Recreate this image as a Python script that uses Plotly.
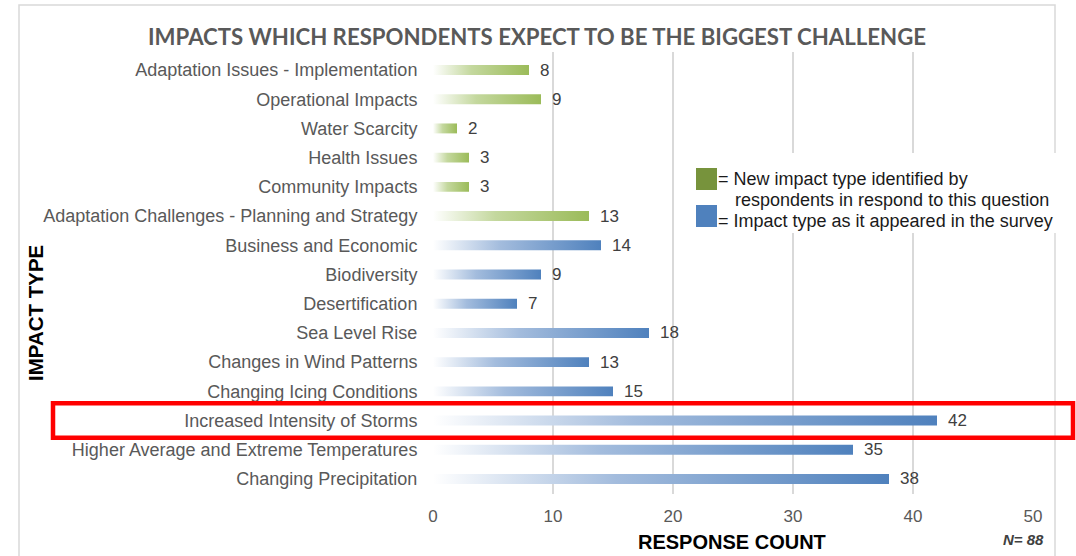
import plotly.graph_objects as go

# ---- data (top of chart to bottom) ----
categories = [
    "Adaptation Issues - Implementation",
    "Operational Impacts",
    "Water Scarcity",
    "Health Issues",
    "Community Impacts",
    "Adaptation Challenges - Planning and Strategy",
    "Business and Economic",
    "Biodiversity",
    "Desertification",
    "Sea Level Rise",
    "Changes in Wind Patterns",
    "Changing Icing Conditions",
    "Increased Intensity of Storms",
    "Higher Average and Extreme Temperatures",
    "Changing Precipitation",
]
counts = [8, 9, 2, 3, 3, 13, 14, 9, 7, 18, 13, 15, 42, 35, 38]
groups = ["new"] * 6 + ["survey"] * 9
x_ticks = [0, 10, 20, 30, 40, 50]
highlight = "Increased Intensity of Storms"
title_text = "IMPACTS WHICH RESPONDENTS EXPECT TO BE THE BIGGEST CHALLENGE"
legend_new = ["= New impact type identified by", "respondents in respond to this question"]
legend_survey = "= Impact type as it appeared in the survey"
n_text = "N= 88"

# ---- styles ----
GREEN = "#9BBB59"
GREEN_MID = "#c4d89e"
BLUE = "#4F81BD"
BLUE_MID = "#a3bcdd"
LEG_GREEN = "#77933C"
LEG_BLUE = "#4F81BD"
GRAY = "#595959"
FONT = "Liberation Sans, Arial, sans-serif"

# pixel geometry of plot area
W, H = 1076, 556
L, R, T, B = 433, 1033, 52, 494
n = len(categories)
ypos = [n - 1 - i for i in range(n)]  # top row gets highest value
half = 0.17


def px_x(p):
    return (p - L) / (R - L)


def px_y(p):
    return (B - p) / (B - T)


fig = go.Figure()
for cat, v, g, y in zip(categories, counts, groups, ypos):
    col, mid = (GREEN, GREEN_MID) if g == "new" else (BLUE, BLUE_MID)
    fig.add_trace(go.Scatter(
        x=[0, v, v, 0, 0],
        y=[y - half, y - half, y + half, y + half, y - half],
        mode="lines",
        line=dict(width=0),
        fill="toself",
        fillgradient=dict(type="horizontal",
                          colorscale=[[0, "#ffffff"], [0.4, mid], [1, col]]),
        hoverinfo="skip",
        showlegend=False,
    ))

annotations = []
for v, y in zip(counts, ypos):
    annotations.append(dict(x=v, y=y, xref="x", yref="y", text=str(v),
                            showarrow=False, xanchor="left", xshift=9,
                            font=dict(family=FONT, size=17, color="#404040")))

annotations += [
    dict(x=px_x(537), y=px_y(37), xref="paper", yref="paper", text="<b>%s</b>" % title_text,
         showarrow=False, xanchor="center", yanchor="middle",
         font=dict(family="Lato, Open Sans, sans-serif", size=22.2, color=GRAY)),
    dict(x=px_x(732), y=px_y(542), xref="paper", yref="paper", text="<b>RESPONSE COUNT</b>",
         showarrow=False, xanchor="center", yanchor="middle",
         font=dict(family=FONT, size=20, color="#000000")),
    dict(x=px_x(35), y=px_y(313), xref="paper", yref="paper", text="<b>IMPACT TYPE</b>",
         showarrow=False, textangle=-90, xanchor="center", yanchor="middle",
         font=dict(family=FONT, size=20.5, color="#000000")),
    dict(x=px_x(1046), y=px_y(539), xref="paper", yref="paper", text="<b><i>%s</i></b>" % n_text,
         showarrow=False, xanchor="right", yanchor="middle",
         font=dict(family=FONT, size=15, color="#404040")),
    dict(x=px_x(716), y=px_y(179), xref="paper", yref="paper", text=legend_new[0],
         showarrow=False, xanchor="left", yanchor="middle",
         font=dict(family=FONT, size=18, color="#1a1a1a")),
    dict(x=px_x(733), y=px_y(200), xref="paper", yref="paper", text=legend_new[1],
         showarrow=False, xanchor="left", yanchor="middle",
         font=dict(family=FONT, size=18, color="#1a1a1a")),
    dict(x=px_x(716), y=px_y(221), xref="paper", yref="paper", text=legend_survey,
         showarrow=False, xanchor="left", yanchor="middle",
         font=dict(family=FONT, size=18, color="#1a1a1a")),
]

hi_y = ypos[categories.index(highlight)]
shapes = [
    # outer light border of chart
    dict(type="rect", xref="paper", yref="paper", x0=px_x(19), x1=px_x(1055),
         y0=px_y(5), y1=px_y(620), line=dict(color="#D9D9D9", width=1.5),
         fillcolor="rgba(0,0,0,0)", layer="below"),
    # legend background
    dict(type="rect", xref="paper", yref="paper", x0=px_x(690), x1=px_x(1058),
         y0=px_y(153), y1=px_y(233), line=dict(width=0), fillcolor="white", layer="above"),
    dict(type="rect", xref="paper", yref="paper", x0=px_x(696), x1=px_x(717),
         y0=px_y(168), y1=px_y(190), line=dict(width=0), fillcolor=LEG_GREEN, layer="above"),
    dict(type="rect", xref="paper", yref="paper", x0=px_x(696), x1=px_x(717),
         y0=px_y(205), y1=px_y(227), line=dict(width=0), fillcolor=LEG_BLUE, layer="above"),
    # red highlight box
    dict(type="rect", xref="paper", yref="y", x0=px_x(53), x1=px_x(1073),
         y0=hi_y - 0.59, y1=hi_y + 0.59, line=dict(color="#FF0000", width=4.5),
         fillcolor="rgba(0,0,0,0)", layer="above"),
]

fig.update_layout(
    width=W, height=H,
    margin=dict(l=L, r=W - R, t=T, b=H - B),
    paper_bgcolor="white", plot_bgcolor="white",
    showlegend=False,
    annotations=annotations,
    shapes=shapes,
    xaxis=dict(range=[0, 50], tickvals=x_ticks, showgrid=True, gridcolor="#D9D9D9",
               gridwidth=1.5, zeroline=False, showline=False,
               ticks="outside", ticklen=7, tickcolor="rgba(0,0,0,0)",
               tickfont=dict(family=FONT, size=17, color=GRAY), fixedrange=True),
    yaxis=dict(range=[-0.514, n - 1 + 0.616], tickvals=ypos, ticktext=categories,
               showgrid=False, zeroline=False, showline=False,
               ticks="outside", ticklen=11, tickcolor="rgba(0,0,0,0)",
               tickfont=dict(family=FONT, size=18, color=GRAY), fixedrange=True),
)

fig.write_html("out.html", config={"displayModeBar": False},
               post_script="document.body.style.margin='0';document.body.style.overflow='hidden';")
